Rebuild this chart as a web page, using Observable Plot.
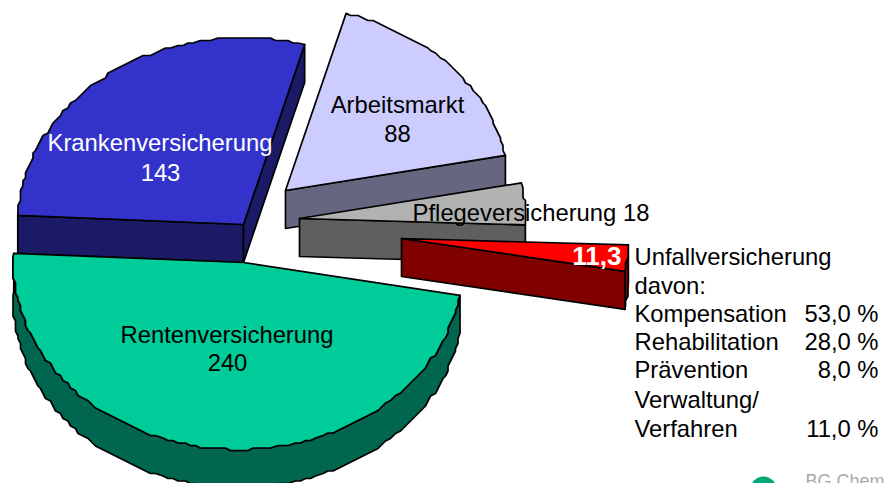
<!DOCTYPE html>
<html>
<head>
<meta charset="utf-8">
<style>html,body{margin:0;padding:0;background:#fff}svg{display:block}</style>
<script src="https://cdn.jsdelivr.net/npm/d3@7"></script>
<script src="https://cdn.jsdelivr.net/npm/@observablehq/plot@0.6"></script>
</head>
<body>
<div id="chart"></div>
<script>
// Data, clockwise from the first slice
const categories = ["Arbeitsmarkt", "Pflegeversicherung", "Unfallversicherung", "Rentenversicherung", "Krankenversicherung"];
const values = [88, 18, 11.3, 240, 143];
const topColors = ["#CCCCFF", "#B2B2B2", "#FF0000", "#00CC99", "#3333CC"];
const sideColors = ["#666680", "#5F5F5F", "#800000", "#006650", "#1A1A66"];
const legendHead = ["Unfallversicherung", "davon:"];
const legendLabels = ["Kompensation", "Rehabilitation", "Prävention", "Verwaltung/", "Verfahren"];
const legendValues = ["53,0 %", "28,0 %", "8,0 %", "", "11,0 %"];

// Pie projection: apex of each exploded slice, arc centre offset and radii
const W = 885, H = 483, DEPTH = 38, START = 15.7;
const layout = {
  Arbeitsmarkt:        {apex: [285, 190], dx: 0,  rx: 224, ry: 184},
  Pflegeversicherung:  {apex: [299, 218], dx: 0,  rx: 226, ry: 187},
  Unfallversicherung:  {apex: [401, 238], dx: 0,  rx: 227, ry: 187},
  Rentenversicherung:  {apex: [243, 262], dx: -5, rx: 225, ry: 187},
  Krankenversicherung: {apex: [243, 224], dx: 0,  rx: 226, ry: 187}
};
const total = d3.sum(values);
const snap = v => Math.round(v / 2.5) * 2.5;
let acc = START;
const slices = categories.map((name, i) => {
  const a0 = acc, a1 = acc + values[i] / total * 360;
  acc = a1;
  const {apex, dx, rx, ry} = layout[name];
  const cx = apex[0] + dx, cy = apex[1];
  const at = a => [cx + rx * Math.sin(a * Math.PI / 180), cy - ry * Math.cos(a * Math.PI / 180)];
  const arc = (from, to) => {
    const n = Math.max(2, Math.ceil((to - from) / 1.5));
    return d3.range(n + 1).map(k => {
      const p = at(from + (to - from) * k / n);
      return k === 0 || k === n ? p : [snap(p[0]), snap(p[1])];
    });
  };
  return {name, i, a0, a1, apex, at, arc};
});
const down = ([x, y]) => [x, y + DEPTH];
const polys = [];
const add = (pts, fill) => polys.push({pts, fill});
const by = Object.fromEntries(slices.map(s => [s.name, s]));

function endWall(s, a) { add([s.apex, s.at(a), down(s.at(a)), down(s.apex)], sideColors[s.i]); }
function outerWall(s, from, to) {
  const top = s.arc(from, to);
  add([...top, ...top.slice().reverse().map(down)], sideColors[s.i]);
}
function topFace(s) { add([s.apex, ...s.arc(s.a0, s.a1)], topColors[s.i]); }

// painter's order: back to front
let s = by.Arbeitsmarkt; endWall(s, s.a1); topFace(s);
s = by.Pflegeversicherung; endWall(s, s.a1); topFace(s);
s = by.Unfallversicherung; outerWall(s, s.a0, s.a1); endWall(s, s.a1); topFace(s);
s = by.Krankenversicherung; endWall(s, s.a0); endWall(s, s.a1); topFace(s);
s = by.Rentenversicherung; outerWall(s, s.a0, s.a1); topFace(s);

const lines = polys.map(p => Plot.line(p.pts, {
  x: d => d[0], y: d => d[1], fill: p.fill, stroke: "#000", strokeWidth: 1.7,
  strokeLinejoin: "round", curve: "linear-closed"
}));

const font = {fontFamily: "Liberation Sans, Arial, sans-serif", fontSize: 23.8, lineAnchor: "bottom"};
const txt = (t, x, y, extra = {}) => Plot.text([t], {text: d => d, x: () => x, y: () => y, fill: "#000", ...font, ...extra});
const rowYs = [321, 349, 377, 407, 436];

const marks = [
  ...lines,
  txt(categories[4], 159.5, 150, {fill: "#fff"}),
  txt(String(values[4]), 160, 180, {fill: "#fff"}),
  txt(categories[0], 397, 112),
  txt(String(values[0]), 397, 141),
  txt(categories[3], 226.5, 342),
  txt(String(values[3]), 227, 370),
  txt(categories[1] + " " + values[1], 530.5, 220),
  txt(String(values[2]).replace(".", ","), 621, 264, {fill: "#fff", fontWeight: "bold", fontSize: 26, textAnchor: "end"}),
  txt(legendHead[0], 634, 264, {textAnchor: "start"}),
  txt(legendHead[1], 634, 293, {textAnchor: "start"}),
  ...legendLabels.map((t, i) => txt(t, 634, rowYs[i], {textAnchor: "start"})),
  ...legendValues.map((t, i) => txt(t, 878, rowYs[i], {textAnchor: "end"})),
  Plot.dot([0], {x: () => 763, y: () => 489, r: 13, fill: "#00A878"}),
  txt("BG Chemie", 805, 486, {fill: "#aaa", fontSize: 18, textAnchor: "start"})
];

const chart = Plot.plot({
  width: W, height: H, margin: 0,
  x: {domain: [0, W], range: [0, W], axis: null},
  y: {domain: [0, H], range: [0, H], axis: null},
  marks
});
document.getElementById("chart").append(chart);
</script>
</body>
</html>
